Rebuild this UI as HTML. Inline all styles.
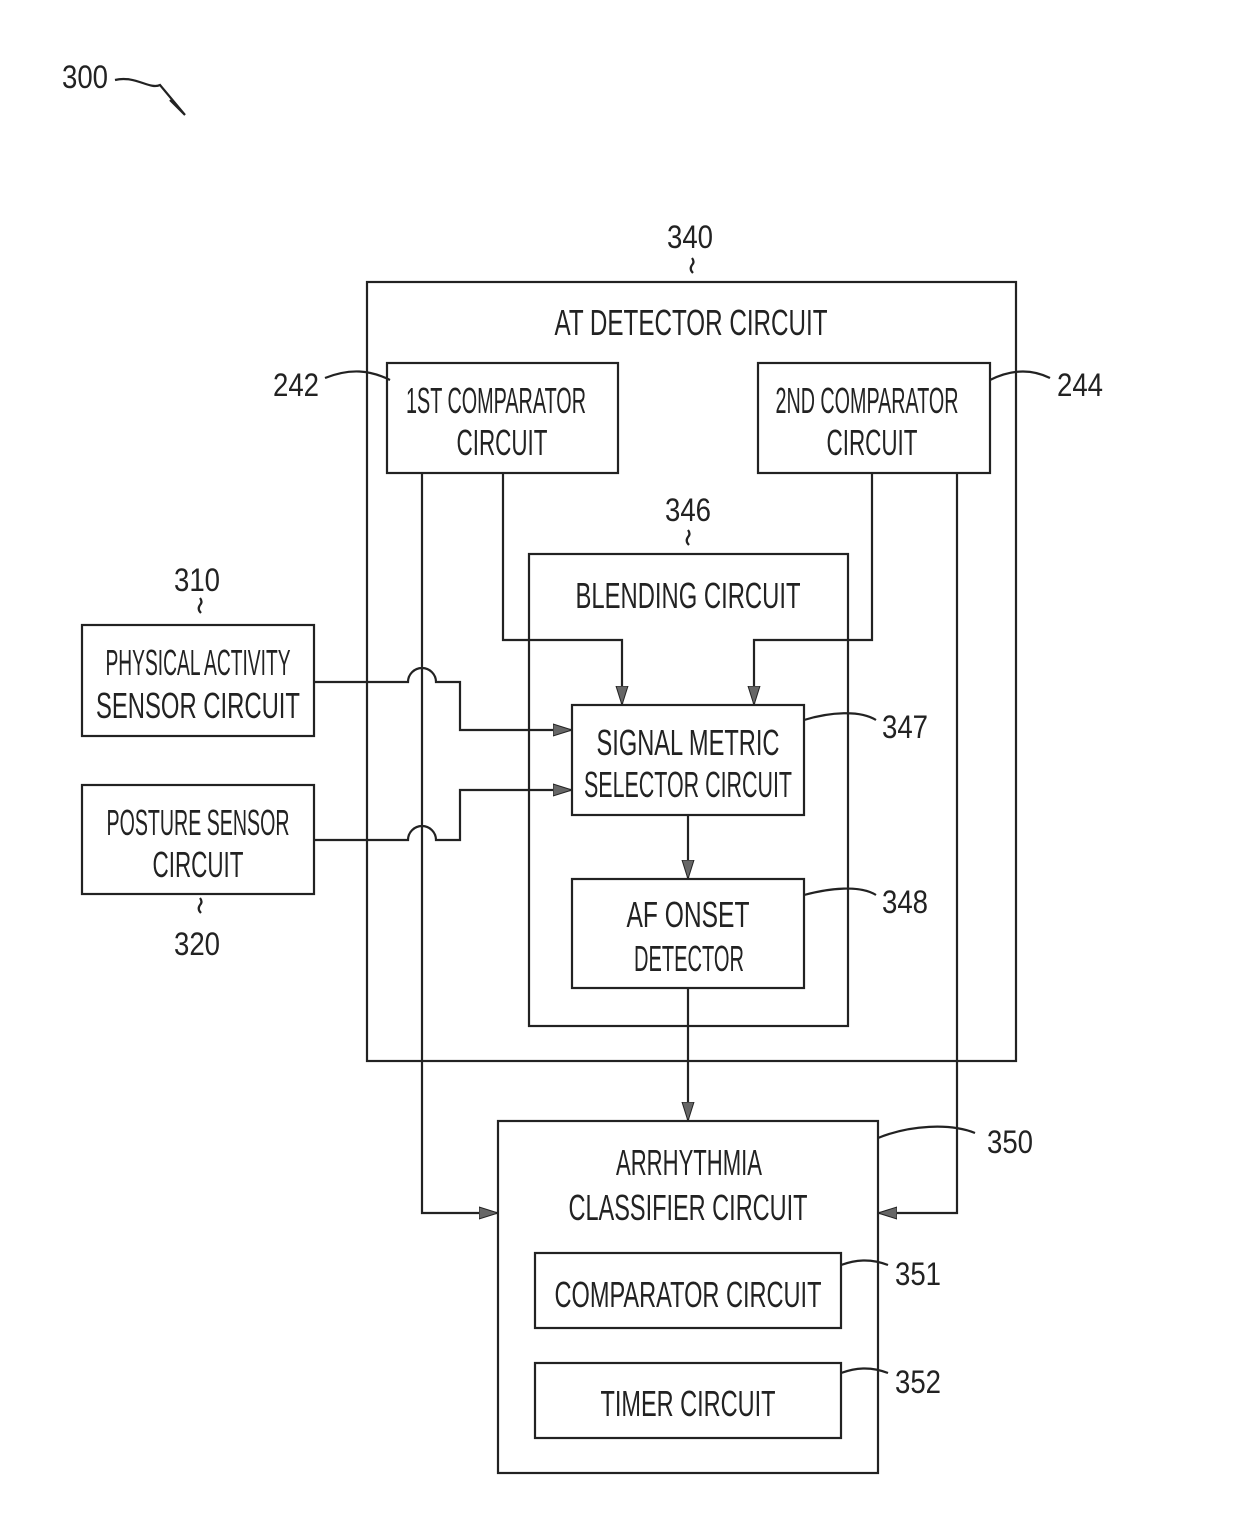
<!DOCTYPE html>
<html><head><meta charset="utf-8"><style>body{margin:0;background:#fff}svg{display:block}</style></head><body>
<svg width="1240" height="1527" viewBox="0 0 1240 1527" xmlns="http://www.w3.org/2000/svg">
<defs>
<marker id="a" markerWidth="20" markerHeight="14" refX="19" refY="7" orient="auto" markerUnits="userSpaceOnUse">
<path d="M0,1 L19,7 L0,13 Z" fill="#666" stroke="#222" stroke-width="1"/>
</marker>
</defs>
<g fill="none" stroke="#222" stroke-width="2.2">
<rect x="367" y="282" width="649" height="779"/>
<rect x="387" y="363" width="231" height="110"/>
<rect x="758" y="363" width="232" height="110"/>
<rect x="529" y="554" width="319" height="472"/>
<rect x="572" y="705" width="232" height="110"/>
<rect x="572" y="879" width="232" height="109"/>
<rect x="82" y="625" width="232" height="111"/>
<rect x="82" y="785" width="232" height="109"/>
<rect x="498" y="1121" width="380" height="352"/>
<rect x="535" y="1253" width="306" height="75"/>
<rect x="535" y="1363" width="306" height="75"/>
<path d="M422,473 V1213 H498" marker-end="url(#a)"/>
<path d="M503,473 V640 H622 V705" marker-end="url(#a)"/>
<path d="M872,473 V640 H754 V705" marker-end="url(#a)"/>
<path d="M957,473 V1213 H878" marker-end="url(#a)"/>
<path d="M314,682 H408 A14,14 0 0 1 436,682 H460 V730 H572" marker-end="url(#a)"/>
<path d="M314,840 H408 A14,14 0 0 1 436,840 H460 V790 H572" marker-end="url(#a)"/>
<path d="M688,815 V879" marker-end="url(#a)"/>
<path d="M688,988 V1121" marker-end="url(#a)"/>
<path d="M115,80 C135,75 150,90 160,85 L185,115 L170,100"/>
<path d="M692,258 q3,4 0,7 q-3,4 1,8"/>
<path d="M688,530 q3,4 0,7 q-3,4 1,8"/>
<path d="M200,598 q3,4 0,7 q-3,4 1,8"/>
<path d="M200,898 q3,4 0,7 q-3,4 1,8"/>
<path d="M325,378 C350,368 370,370 390,380"/>
<path d="M1050,378 C1030,368 1010,370 990,380"/>
<path d="M876,720 C860,710 830,712 804,720"/>
<path d="M876,895 C860,885 830,888 804,895"/>
<path d="M975,1133 C950,1123 910,1125 878,1138"/>
<path d="M888,1265 C870,1258 855,1260 841,1265"/>
<path d="M888,1373 C870,1366 855,1368 841,1373"/>
</g>
<g font-family="Liberation Sans, sans-serif" font-size="36" fill="#222" text-anchor="middle" lengthAdjust="spacingAndGlyphs">
<text x="691" y="335" textLength="273" lengthAdjust="spacingAndGlyphs">AT DETECTOR CIRCUIT</text>
<text x="496" y="413" textLength="180" lengthAdjust="spacingAndGlyphs">1ST COMPARATOR</text>
<text x="502" y="455" textLength="91" lengthAdjust="spacingAndGlyphs">CIRCUIT</text>
<text x="867" y="413" textLength="183" lengthAdjust="spacingAndGlyphs">2ND COMPARATOR</text>
<text x="872" y="455" textLength="91" lengthAdjust="spacingAndGlyphs">CIRCUIT</text>
<text x="688" y="608" textLength="225" lengthAdjust="spacingAndGlyphs">BLENDING CIRCUIT</text>
<text x="688" y="755" textLength="183" lengthAdjust="spacingAndGlyphs">SIGNAL METRIC</text>
<text x="688" y="797" textLength="208" lengthAdjust="spacingAndGlyphs">SELECTOR CIRCUIT</text>
<text x="688" y="927" textLength="123" lengthAdjust="spacingAndGlyphs">AF ONSET</text>
<text x="689" y="971" textLength="110" lengthAdjust="spacingAndGlyphs">DETECTOR</text>
<text x="198" y="675" textLength="185" lengthAdjust="spacingAndGlyphs">PHYSICAL ACTIVITY</text>
<text x="198" y="718" textLength="204" lengthAdjust="spacingAndGlyphs">SENSOR CIRCUIT</text>
<text x="198" y="835" textLength="183" lengthAdjust="spacingAndGlyphs">POSTURE SENSOR</text>
<text x="198" y="877" textLength="91" lengthAdjust="spacingAndGlyphs">CIRCUIT</text>
<text x="689" y="1175" textLength="146" lengthAdjust="spacingAndGlyphs">ARRHYTHMIA</text>
<text x="688" y="1220" textLength="239" lengthAdjust="spacingAndGlyphs">CLASSIFIER CIRCUIT</text>
<text x="688" y="1307" textLength="267" lengthAdjust="spacingAndGlyphs">COMPARATOR CIRCUIT</text>
<text x="688" y="1416" textLength="175" lengthAdjust="spacingAndGlyphs">TIMER CIRCUIT</text>
</g>
<g font-family="Liberation Sans, sans-serif" font-size="32" fill="#222" text-anchor="middle">
<text x="85" y="88" textLength="46" lengthAdjust="spacingAndGlyphs">300</text>
<text x="690" y="248" textLength="46" lengthAdjust="spacingAndGlyphs">340</text>
<text x="296" y="396" textLength="46" lengthAdjust="spacingAndGlyphs">242</text>
<text x="1080" y="396" textLength="46" lengthAdjust="spacingAndGlyphs">244</text>
<text x="688" y="521" textLength="46" lengthAdjust="spacingAndGlyphs">346</text>
<text x="197" y="591" textLength="46" lengthAdjust="spacingAndGlyphs">310</text>
<text x="197" y="955" textLength="46" lengthAdjust="spacingAndGlyphs">320</text>
<text x="905" y="738" textLength="46" lengthAdjust="spacingAndGlyphs">347</text>
<text x="905" y="913" textLength="46" lengthAdjust="spacingAndGlyphs">348</text>
<text x="1010" y="1153" textLength="46" lengthAdjust="spacingAndGlyphs">350</text>
<text x="918" y="1285" textLength="46" lengthAdjust="spacingAndGlyphs">351</text>
<text x="918" y="1393" textLength="46" lengthAdjust="spacingAndGlyphs">352</text>
</g>
</svg>
</body></html>
